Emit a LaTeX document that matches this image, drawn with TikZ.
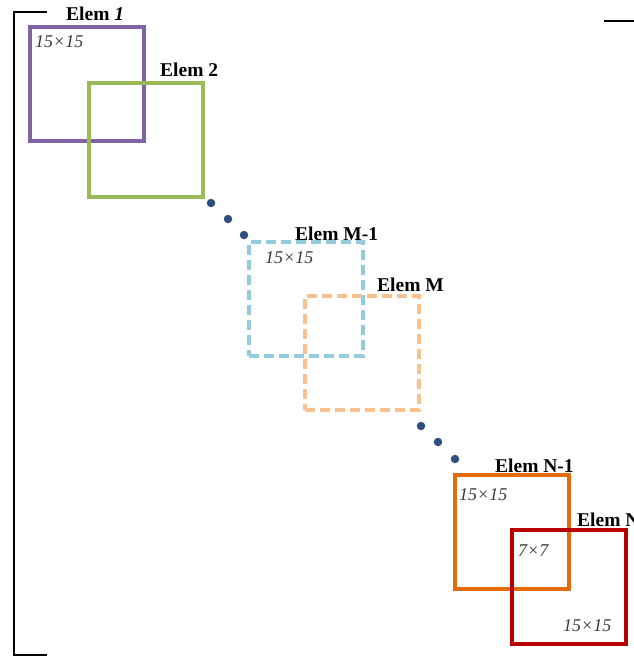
\documentclass[tikz,border=0pt]{standalone}
\usepackage{fontspec}
\setmainfont{Liberation Serif}
\definecolor{cpurple}{HTML}{8064A2}
\definecolor{cgreen}{HTML}{9BBB59}
\definecolor{cblue}{HTML}{93CDDD}
\definecolor{cpeach}{HTML}{FAC090}
\definecolor{corange}{HTML}{E46C0A}
\definecolor{cred}{HTML}{B80000}
\definecolor{cdot}{HTML}{2F4F80}
\definecolor{ctext}{HTML}{3A3A3A}
\tikzset{
  elembox/.style={draw=#1, line width=3.5pt, minimum width=114pt, minimum height=114pt, inner sep=0pt, outer sep=0pt, anchor=north west},
  dashbox/.style={elembox=#1, dash pattern=on 10pt off 5pt},
  elemlabel/.style={anchor=base west, inner sep=0pt, font=\fontsize{19.5}{21}\selectfont\bfseries, text=black},
  sizelabel/.style={anchor=base west, inner sep=0pt, font=\fontsize{18}{20}\selectfont\itshape, text=ctext},
  dotnode/.style={circle, fill=cdot, minimum size=8.5pt, inner sep=0pt},
  bracket/.style={line width=2.8pt, black}
}
\begin{document}
\begin{tikzpicture}[x=1pt,y=-1pt]
\useasboundingbox (0,0) rectangle (634,661);
% bracket
\draw[bracket] (47,12) -- (14,12) -- (14,655) -- (47,655);
\draw[bracket] (604,21) -- (640,21);
% boxes
\node[elembox=cpurple] (e1) at (30,27) {};
\node[elembox=cgreen] (e2) at (89,83) {};
\node[dashbox=cblue] (em1) at (249,242) {};
\node[dashbox=cpeach] (em) at (305,296) {};
\node[elembox=corange] (en1) at (455,475) {};
\node[elembox=cred] (en) at (512,530) {};
% dots
\node[dotnode] (d1) at (211,203) {};
\node[dotnode] (d2) at (228,219) {};
\node[dotnode] (d3) at (244,235) {};
\node[dotnode] (d4) at (421,426) {};
\node[dotnode] (d5) at (438,442) {};
\node[dotnode] (d6) at (455,459) {};
% labels
\node[elemlabel] (l1) at (66,21) {Elem \textit{1}};
\node[elemlabel] (l2) at (160,77) {Elem 2};
\node[elemlabel] (lm1) at (295,240) {Elem M-1};
\node[elemlabel] (lm) at (377,291) {Elem M};
\node[elemlabel] (ln1) at (495,472) {Elem N-1};
\node[elemlabel] (ln) at (577,526) {Elem N};
% size labels
\node[sizelabel] (s1) at (35,48) {15×15};
\node[sizelabel] (s2) at (265,263) {15×15};
\node[sizelabel] (s3) at (459,500) {15×15};
\node[sizelabel] (s4) at (518,556) {7×7};
\node[sizelabel] (s5) at (563,631) {15×15};
\end{tikzpicture}
\end{document}
